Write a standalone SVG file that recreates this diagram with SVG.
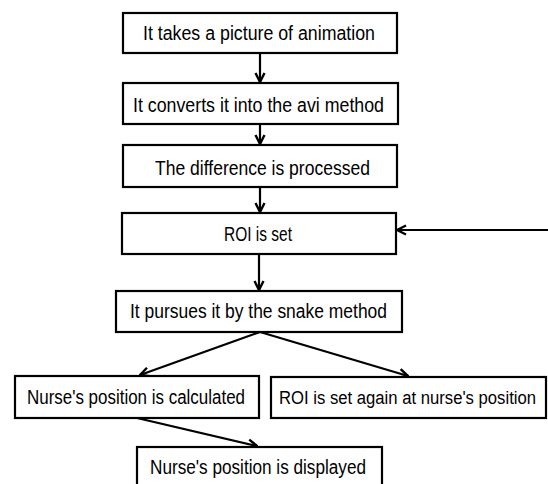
<svg xmlns="http://www.w3.org/2000/svg" width="548" height="484" viewBox="0 0 548 484">
<defs>
<style>
.box{fill:#fff;stroke:#000;stroke-width:2.2}
.lbl{font-family:"Liberation Sans Narrow","Liberation Sans",Arial,sans-serif;font-size:19.5px;fill:#000}
.sm{font-size:18px}
.con{stroke:#000;stroke-width:2.2;fill:none;marker-end:url(#arr)}
</style>
<marker id="arr" markerUnits="userSpaceOnUse" viewBox="0 0 12 12" refX="11" refY="6" markerWidth="12" markerHeight="12" orient="auto">
<path d="M2,1.5 L11,6 L2,10.5" fill="none" stroke="#000" stroke-width="2.4"/>
</marker>
</defs>
<rect width="548" height="484" fill="#fff"/>
<g id="connectors">
<line class="con" x1="260" y1="53" x2="260" y2="82"/>
<line class="con" x1="260" y1="124" x2="260" y2="144"/>
<line class="con" x1="260" y1="187" x2="260" y2="212"/>
<line class="con" x1="259" y1="254" x2="259" y2="290"/>
<line class="con" x1="548" y1="230" x2="397" y2="230"/>
<line class="con" x1="260" y1="332" x2="140" y2="375"/>
<line class="con" x1="260" y1="332" x2="408" y2="376"/>
<line class="con" x1="137" y1="418" x2="257" y2="446"/>
</g>
<g id="n1">
<rect class="box" x="123" y="13" width="274" height="40"/>
<text class="lbl" x="143" y="40" textLength="232" lengthAdjust="spacingAndGlyphs">It takes a picture of animation</text>
</g>
<g id="n2">
<rect class="box" x="123" y="83" width="275" height="41"/>
<text class="lbl" x="133" y="112" textLength="251" lengthAdjust="spacingAndGlyphs">It converts it into the avi method</text>
</g>
<g id="n3">
<rect class="box" x="123" y="145" width="274" height="42"/>
<text class="lbl" x="155" y="175" textLength="215" lengthAdjust="spacingAndGlyphs">The difference is processed</text>
</g>
<g id="n4">
<rect class="box" x="122" y="213" width="274" height="41"/>
<text class="lbl" x="224" y="241" textLength="68" lengthAdjust="spacingAndGlyphs">ROI is set</text>
</g>
<g id="n5">
<rect class="box" x="116" y="291" width="286" height="41"/>
<text class="lbl" x="130" y="318" textLength="257" lengthAdjust="spacingAndGlyphs">It pursues it by the snake method</text>
</g>
<g id="n6">
<rect class="box" x="15" y="376" width="244" height="42"/>
<text class="lbl" x="27" y="404" textLength="218" lengthAdjust="spacingAndGlyphs">Nurse's position is calculated</text>
</g>
<g id="n7">
<rect class="box" x="271" y="377" width="275" height="41"/>
<text class="lbl sm" x="279" y="404" textLength="257" lengthAdjust="spacingAndGlyphs">ROI is set again at nurse's position</text>
</g>
<g id="n8">
<rect class="box" x="137" y="447" width="245" height="45"/>
<text class="lbl" x="150" y="474" textLength="216" lengthAdjust="spacingAndGlyphs">Nurse's position is displayed</text>
</g>
</svg>
